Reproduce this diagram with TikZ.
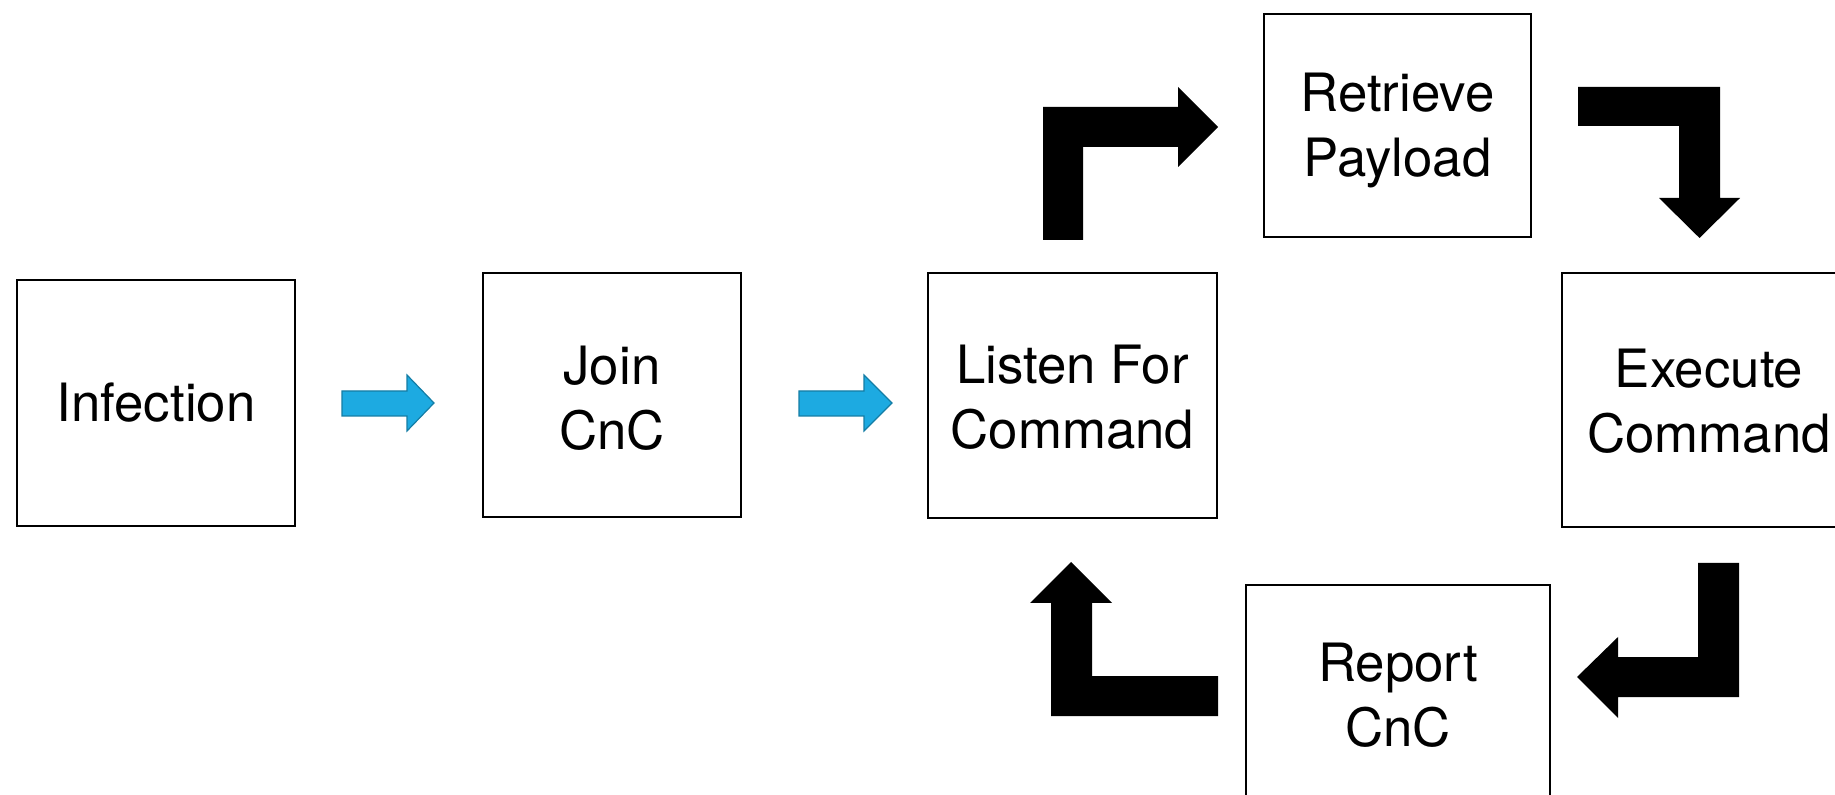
\documentclass[tikz,border=0pt]{standalone}
\usepackage{fontspec}
\setmainfont{TeX Gyre Heros}
\definecolor{bluefill}{RGB}{29,170,225}
\definecolor{blueedge}{RGB}{20,125,165}
\tikzset{
  box/.style={draw=black, line width=1.3pt, fill=white, inner sep=0pt},
  txt/.style={inner sep=0pt, align=center, font=\fontsize{26.4pt}{32.6pt}\selectfont},
  bluearrow/.style={fill=bluefill, draw=blueedge, line width=0.6pt, line join=miter},
  blackarrow/.style={fill=black, draw=none}
}
\begin{document}
\begin{tikzpicture}[x=0.5pt, y=-0.5pt]
\clip (0,0) rectangle (1835,795);
\useasboundingbox (0,0) rectangle (1835,795);
% boxes
\node[box, minimum width=139pt, minimum height=123pt] (inf) at (156,403) {};
\node[box, minimum width=129pt, minimum height=122pt] (join) at (612,395) {};
\node[box, minimum width=144.5pt, minimum height=122.5pt] (listen) at (1072.5,395.5) {};
\node[box, minimum width=133.5pt, minimum height=111.5pt] (retr) at (1397.5,125.5) {};
\node[box, minimum width=147pt, minimum height=127pt] (exec) at (1709,400) {};
\node[box, minimum width=152pt, minimum height=110pt] (report) at (1398,695) {};
% texts
\node[txt] (inf-t) at (inf.center) {Infection};
\node[txt] (join-t) at ([yshift=-1.5pt]join.center) {Join\\CnC};
\node[txt] (listen-t) at ([yshift=-1pt]listen.center) {Listen For\\Command};
\node[txt] (retr-t) at ([yshift=-2.5pt]retr.center) {Retrieve\\Payload};
\node[txt] (exec-t) at ([yshift=-0.5pt]exec.center) {Execute\\Command};
\node[txt] (report-t) at (report.center) {Report\\CnC};
% blue arrows
\draw[bluearrow] (342,391) -- (407,391) -- (407,375) -- (434,403) -- (407,431) -- (407,416) -- (342,416) -- cycle;
\draw[bluearrow] (799,391) -- (864,391) -- (864,375) -- (892,403) -- (864,431) -- (864,416) -- (799,416) -- cycle;
% black bent arrows
\fill[blackarrow] (1043,240) -- (1043,107) -- (1178,107) -- (1178,87) -- (1218,127) -- (1178,167) -- (1178,147) -- (1083,147) -- (1083,240) -- cycle;
\fill[blackarrow] (1578,87) -- (1720,87) -- (1720,198) -- (1740,198) -- (1699.5,238) -- (1659,198) -- (1679,198) -- (1679,126) -- (1578,126) -- cycle;
\fill[blackarrow] (1739,563) -- (1739,697) -- (1618,697) -- (1618,718) -- (1577,677) -- (1618,637) -- (1618,657) -- (1698,657) -- (1698,563) -- cycle;
\fill[blackarrow] (1218,676) -- (1218,716) -- (1051,716) -- (1051,603) -- (1030,603) -- (1071,562) -- (1112,603) -- (1092,603) -- (1092,676) -- cycle;
\end{tikzpicture}
\end{document}
